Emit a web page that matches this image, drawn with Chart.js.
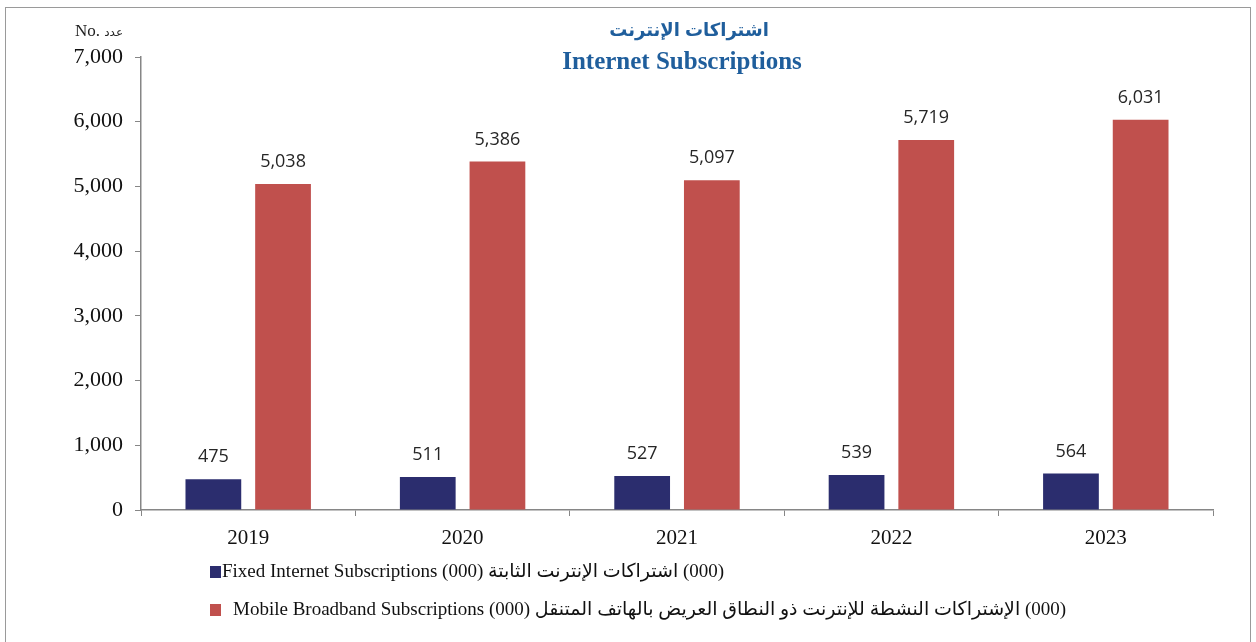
<!DOCTYPE html>
<html lang="en">
<head>
    <meta charset="UTF-8">
    <title>Internet Subscriptions</title>
    <style>
        body {
            margin: 0;
            background-color: #ffffff;
        }
        #frame {
            position: absolute;
            left: 5px;
            top: 7px;
            width: 1244px;
            height: 660px;
            border: 1px solid #9a9a9a;
            pointer-events: none;
        }
        #chartBox {
            position: absolute;
            left: 0;
            top: 0;
        }
    </style>
</head>
<body>
    <div id="chartBox">
        <canvas id="subsChart" width="1256" height="642"></canvas>
    </div>
    <div id="frame"></div>

    <script src="https://cdn.jsdelivr.net/npm/chart.js"></script>
    <script>
        // Data
        const years = ['2019', '2020', '2021', '2022', '2023'];
        const fixedSubs = [475, 511, 527, 539, 564];
        const mobileSubs = [5038, 5386, 5097, 5719, 6031];

        const fixedLabel = 'Fixed Internet Subscriptions (000) اشتراكات الإنترنت الثابتة\u200E (000)';
        const mobileLabel = 'Mobile Broadband Subscriptions (000) الإشتراكات النشطة للإنترنت ذو النطاق العريض بالهاتف المتنقل\u200E (000)';

        const titleAr = 'اشتراكات الإنترنت';
        const titleEn = 'Internet Subscriptions';
        const unitEn = 'No.';
        const unitAr = 'عدد';

        const navy = '#2b2d6e';
        const red = '#c0504d';
        const blue = '#1f5e9c';

        // titles, unit, value labels and legend are drawn here
        const overlay = {
            id: 'overlay',
            afterDatasetsDraw(chart) {
                const ctx = chart.ctx;
                ctx.save();
                ctx.font = '18px "Open Sans", "Noto Sans", sans-serif';
                ctx.fillStyle = '#262626';
                ctx.textAlign = 'center';
                ctx.textBaseline = 'middle';
                chart.data.datasets.forEach((ds, i) => {
                    chart.getDatasetMeta(i).data.forEach((bar, j) => {
                        ctx.fillText(ds.data[j].toLocaleString('en-US'), bar.x, bar.y - 22);
                    });
                });
                ctx.restore();
            },
            afterDraw(chart) {
                const ctx = chart.ctx;
                const area = chart.chartArea;
                const cx = (area.left + area.right) / 2 + 5;
                ctx.save();
                ctx.textAlign = 'center';
                ctx.textBaseline = 'middle';
                ctx.fillStyle = blue;
                ctx.font = 'bold 18px "Liberation Sans", "DejaVu Sans", sans-serif';
                ctx.fillText(titleAr, cx + 7, 31);
                ctx.font = 'bold 25px "Liberation Serif", serif';
                ctx.fillText(titleEn, cx, 63);

                // unit label above the y axis
                ctx.fillStyle = '#222';
                ctx.textAlign = 'left';
                ctx.font = '17px "Liberation Serif", serif';
                ctx.fillText(unitEn, 75, 32);
                const w = ctx.measureText(unitEn + ' ').width;
                ctx.font = '12px "DejaVu Sans", sans-serif';
                ctx.fillText(unitAr, 75 + w, 33);

                // legend, two rows
                const rows = [
                    { y: 572, box: 210, text: 222 },
                    { y: 610, box: 210, text: 233 }
                ];
                ctx.font = '19px "Liberation Serif", "DejaVu Sans", serif';
                chart.data.datasets.forEach((ds, i) => {
                    const r = rows[i];
                    ctx.fillStyle = ds.backgroundColor;
                    ctx.fillRect(r.box, r.y - 6, 11, 12);
                    ctx.fillStyle = '#111';
                    ctx.fillText(ds.label, r.text, r.y);
                });
                ctx.restore();
            }
        };

        const chart = new Chart(document.getElementById('subsChart'), {
            type: 'bar',
            data: {
                labels: years,
                datasets: [
                    {
                        label: fixedLabel,
                        data: fixedSubs,
                        backgroundColor: navy,
                        categoryPercentage: 0.65,
                        barPercentage: 0.8
                    },
                    {
                        label: mobileLabel,
                        data: mobileSubs,
                        backgroundColor: red,
                        categoryPercentage: 0.65,
                        barPercentage: 0.8
                    }
                ]
            },
            options: {
                responsive: false,
                animation: false,
                layout: {
                    padding: { left: 0, right: 43, top: 57, bottom: 0 }
                },
                plugins: {
                    legend: { display: false },
                    title: { display: false },
                    tooltip: { enabled: false }
                },
                scales: {
                    x: {
                        offset: true,
                        grid: {
                            offset: true,
                            drawOnChartArea: false,
                            drawTicks: true,
                            tickLength: 6,
                            color: '#868686'
                        },
                        border: { color: '#868686', width: 1.5 },
                        ticks: {
                            padding: 10,
                            color: '#111',
                            font: { family: '"Liberation Serif", serif', size: 21 }
                        },
                        afterFit: s => { s.height = 132; }
                    },
                    y: {
                        min: 0,
                        max: 7000,
                        ticks: {
                            stepSize: 1000,
                            padding: 12,
                            color: '#111',
                            font: { family: '"Liberation Serif", serif', size: 22 },
                            callback: v => v.toLocaleString('en-US')
                        },
                        grid: {
                            drawOnChartArea: false,
                            drawTicks: true,
                            tickLength: 6,
                            color: '#868686'
                        },
                        border: { color: '#868686', width: 1.5 },
                        afterFit: s => { s.width = 141; }
                    }
                }
            },
            plugins: [overlay]
        });
    </script>
</body>
</html>
